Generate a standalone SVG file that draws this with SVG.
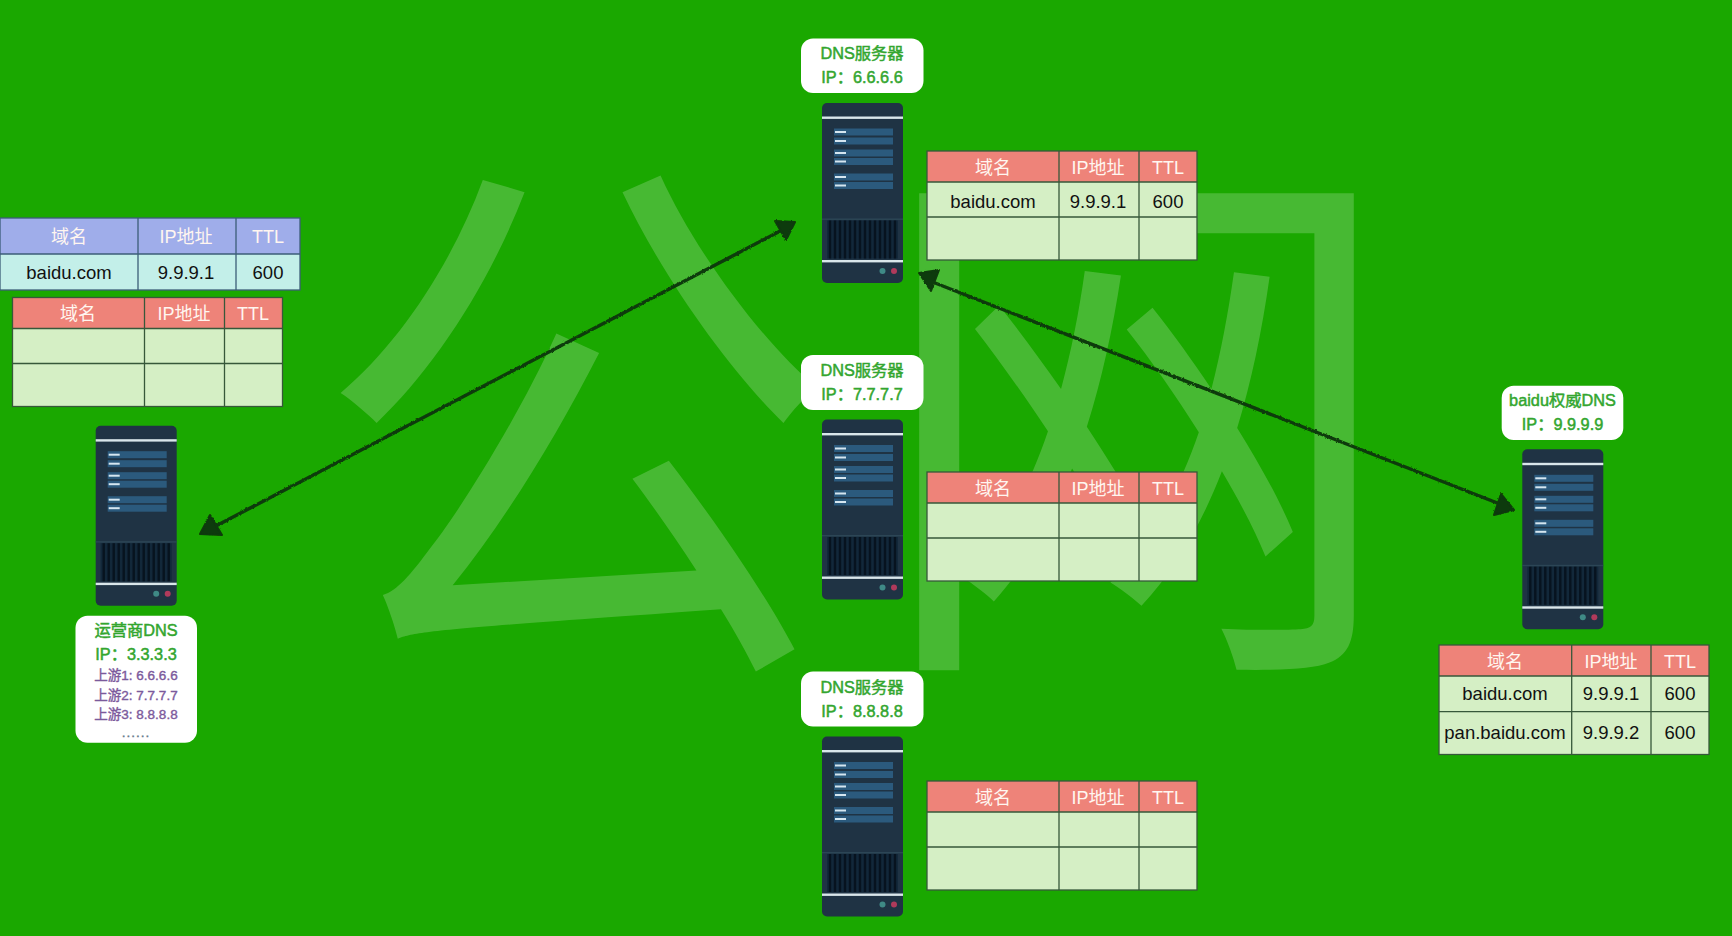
<svg xmlns="http://www.w3.org/2000/svg" width="1732" height="936" viewBox="0 0 1732 936">
<style>
text{font-family:"Liberation Sans","Noto Sans CJK SC",sans-serif;text-anchor:middle}
.wm{font-family:"Noto Sans CJK SC",sans-serif;font-size:540px;fill:#fff;fill-opacity:.2;text-anchor:start}
.hr{fill:#ee8379}.cg{fill:#d5efc5}.hb{fill:#9fadea}.cb{fill:#c3efe9}
.bd{fill:none;stroke:#37583a;stroke-width:1.3}
.h{font-size:18px;fill:#fff6f0}
.c{font-size:18.5px;fill:#111}
.bub{fill:#fff}
.g{font-size:16.3px;fill:#33a62f;stroke:#33a62f;stroke-width:.5}
.p{font-size:13.5px;fill:#7c5a9c;stroke:#7c5a9c;stroke-width:.4}
.conn{stroke:#0c3a08;stroke-width:3.4;fill:none}
.head{fill:#0c3a08;stroke:#0c3a08;stroke-width:2;stroke-linejoin:round}
</style>
<defs>
<filter id="rough" filterUnits="userSpaceOnUse" x="180" y="200" width="1350" height="350">
<feTurbulence type="fractalNoise" baseFrequency=".45" numOctaves="2" seed="4"/>
<feDisplacementMap in="SourceGraphic" scale="2.5" xChannelSelector="R" yChannelSelector="G"/>
</filter>
<g id="srv">
<rect width="81" height="180" rx="5" fill="#1f3344"/>
<rect y="13.500" width="81" height="2.400" fill="#d9e6ea"/>
<g fill="#2b5a7d">
<rect x="12" y="25.500" width="59" height="7"/><rect x="12" y="34.500" width="59" height="7"/>
<rect x="12" y="46.500" width="59" height="7"/><rect x="12" y="55" width="59" height="7"/>
<rect x="12" y="70.500" width="59" height="7"/><rect x="12" y="79" width="59" height="7"/>
</g>
<g fill="#d5e6f0">
<rect x="13" y="28" width="11" height="2"/><rect x="13" y="37" width="11" height="2"/>
<rect x="13" y="49" width="11" height="2"/><rect x="13" y="57.500" width="11" height="2"/>
<rect x="13" y="73" width="11" height="2"/><rect x="13" y="81.500" width="11" height="2"/>
</g>
<rect y="115.500" width="81" height="1.400" fill="#2c4656"/>
<rect x="5" y="117.500" width="71" height="38" fill="#12283a"/>
<path d="M8 117.500V155.500M13 117.500V155.500M18 117.500V155.500M23 117.500V155.500M28 117.500V155.500M33 117.500V155.500M38 117.500V155.500M43 117.500V155.500M48 117.500V155.500M53 117.500V155.500M58 117.500V155.500M63 117.500V155.500M68 117.500V155.500M73 117.500V155.500" stroke="#07131f" stroke-width="2.400"/>
<rect y="157" width="81" height="2.400" fill="#d9e6ea"/>
<circle cx="60.500" cy="168" r="3" fill="#3f8a86"/>
<circle cx="72" cy="168" r="3" fill="#b03a5b"/>
</g>
<g id="tstd">
<rect width="270" height="31" class="hr"/>
<rect y="31" width="270" height="78" class="cg"/>
<path d="M132 0V109M212 0V109M0 31H270M0 66H270" class="bd"/>
<rect width="270" height="109" class="bd"/>
</g>
</defs>
<rect width="1732" height="936" fill="#1aa800"/>
<g id="watermark">
<text class="wm" transform="translate(314,631) scale(.965,1.03)">公</text>
<text class="wm" transform="translate(873,627) scale(.973,1.03)">网</text>
</g>

<g id="table-blue">
<rect width="300" height="36" x="0" y="218" class="hb"/>
<rect width="300" height="36" x="0" y="254" class="cb"/>
<path d="M138 218V290M236 218V290M0 254H300" fill="none" stroke="#3c5d78" stroke-width="1.3"/>
<rect x="0" y="218" width="300" height="72" fill="none" stroke="#3c5d78" stroke-width="1.3"/>
<text class="h" x="69" y="242.500">域名</text><text class="h" x="186" y="242.500">IP地址</text><text class="h" x="268" y="242.500">TTL</text>
<text class="c" x="69" y="279">baidu.com</text><text class="c" x="186" y="279">9.9.9.1</text><text class="c" x="268" y="279">600</text>
</g>

<g id="table-isp">
<rect x="12.500" y="297.500" width="270" height="31" class="hr"/>
<rect x="12.500" y="328.500" width="270" height="78" class="cg"/>
<path d="M144.500 297.500V406.500M224.500 297.500V406.500M12.500 328.500H282.500M12.500 363.500H282.500" class="bd"/>
<rect x="12.500" y="297.500" width="270" height="109" class="bd"/>
<text class="h" x="78" y="320">域名</text><text class="h" x="184" y="320">IP地址</text><text class="h" x="253" y="320">TTL</text>
</g>

<g id="node-isp">
<use href="#srv" x="95.700" y="425.700"/>
<rect x="75.500" y="615.700" width="121.500" height="127" rx="12" class="bub"/>
<text class="g" x="136" y="636">运营商DNS</text>
<text class="g" x="136" y="660">IP：3.3.3.3</text>
<text class="p" x="136" y="680">上游1: 6.6.6.6</text>
<text class="p" x="136" y="699.500">上游2: 7.7.7.7</text>
<text class="p" x="136" y="718.500">上游3: 8.8.8.8</text>
<text x="136" y="737" font-size="13.500" fill="#667a8c" stroke="#667a8c" stroke-width=".4" letter-spacing="1">......</text>
</g>

<g id="node-dns1">
<rect x="801" y="38.500" width="122.500" height="54.500" rx="12" class="bub"/>
<text class="g" x="862" y="59">DNS服务器</text>
<text class="g" x="862" y="82.500">IP：6.6.6.6</text>
<use href="#srv" x="822" y="103"/>
</g>
<g id="table-dns1">
<use href="#tstd" x="927" y="151"/>
<text class="h" x="993" y="174">域名</text><text class="h" x="1098" y="174">IP地址</text><text class="h" x="1168" y="174">TTL</text>
<text class="c" x="993" y="207.500">baidu.com</text><text class="c" x="1098" y="207.500">9.9.9.1</text><text class="c" x="1168" y="207.500">600</text>
</g>

<g id="node-dns2">
<rect x="801" y="355" width="122.500" height="55" rx="12" class="bub"/>
<text class="g" x="862" y="376">DNS服务器</text>
<text class="g" x="862" y="399.500">IP：7.7.7.7</text>
<use href="#srv" x="822" y="419.500"/>
</g>
<g id="table-dns2">
<use href="#tstd" x="927" y="472"/>
<text class="h" x="993" y="495">域名</text><text class="h" x="1098" y="495">IP地址</text><text class="h" x="1168" y="495">TTL</text>
</g>

<g id="node-dns3">
<rect x="801" y="671.500" width="122.500" height="55" rx="12" class="bub"/>
<text class="g" x="862" y="693">DNS服务器</text>
<text class="g" x="862" y="716.500">IP：8.8.8.8</text>
<use href="#srv" x="822" y="736.500"/>
</g>
<g id="table-dns3">
<use href="#tstd" x="927" y="781"/>
<text class="h" x="993" y="803.500">域名</text><text class="h" x="1098" y="803.500">IP地址</text><text class="h" x="1168" y="803.500">TTL</text>
</g>

<g id="node-auth">
<rect x="1501.700" y="385.700" width="121.600" height="54.300" rx="12" class="bub"/>
<text class="g" x="1562.500" y="406">baidu权威DNS</text>
<text class="g" x="1562.500" y="429.500">IP：9.9.9.9</text>
<use href="#srv" x="1522.300" y="449.300"/>
</g>
<g id="table-auth">
<rect x="1439" y="645" width="270" height="31" class="hr"/>
<rect x="1439" y="676" width="270" height="78.500" class="cg"/>
<path d="M1571.700 645V754.500M1651 645V754.500M1439 676H1709M1439 711.700H1709" class="bd"/>
<rect x="1439" y="645" width="270" height="109.500" class="bd"/>
<text class="h" x="1505" y="667.500">域名</text><text class="h" x="1611" y="667.500">IP地址</text><text class="h" x="1680" y="667.500">TTL</text>
<text class="c" x="1505" y="700">baidu.com</text><text class="c" x="1611" y="700">9.9.9.1</text><text class="c" x="1680" y="700">600</text>
<text class="c" x="1505" y="739">pan.baidu.com</text><text class="c" x="1611" y="739">9.9.9.2</text><text class="c" x="1680" y="739">600</text>
</g>

<g id="connectors" filter="url(#rough)">
<path class="conn" d="M212 528L786 228"/>
<polygon class="head" points="210,515 200,534 222,535"/>
<polygon class="head" points="775,221 795,222 786,240"/>
<path class="conn" d="M930 281L1505 506"/>
<polygon class="head" points="919,273 939,270 931,291"/>
<polygon class="head" points="1501,494 1514,510 1494,515"/>
</g>
</svg>
